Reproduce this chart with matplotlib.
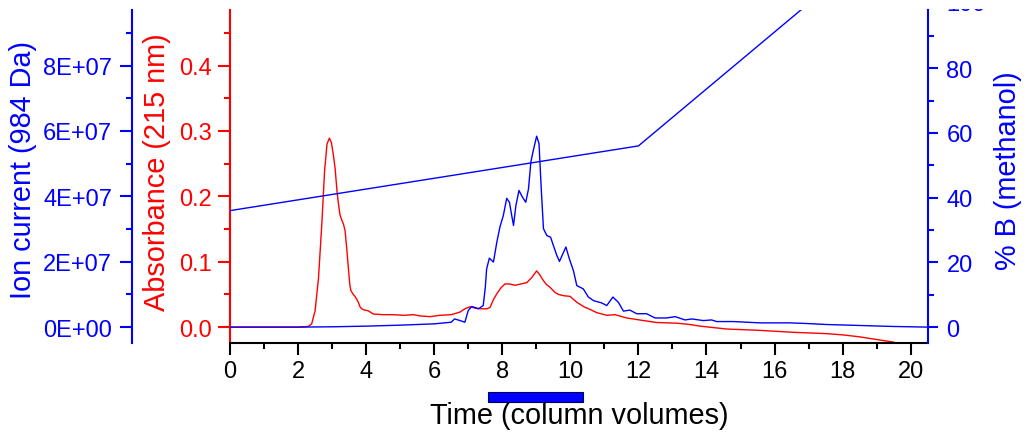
import matplotlib
matplotlib.use("Agg")
import matplotlib.pyplot as plt
import matplotlib.transforms as mtransforms
import numpy as np
from matplotlib.patches import Rectangle
from matplotlib.ticker import FormatStrFormatter, FuncFormatter, MultipleLocator

plt.rcParams["font.family"] = ["Liberation Sans", "DejaVu Sans"]

BLUE = "#0000FF"
RED = "#FF0000"
TICK_FS = 17

# UV trace, 215 nm (time in column volumes, absorbance)
uv_time = [0, 1.0, 2.0, 2.3, 2.4, 2.5, 2.6, 2.7, 2.78, 2.85, 2.92, 2.98, 3.04, 3.09,
           3.14, 3.18, 3.23, 3.28, 3.33, 3.38, 3.43, 3.48, 3.52, 3.55, 3.62, 3.67,
           3.72, 3.77, 3.82, 3.87, 3.95, 4.06, 4.15, 4.21, 4.5, 4.8, 5.1, 5.39, 5.6,
           5.88, 6.17, 6.5, 6.76, 6.9, 7.05, 7.2, 7.35, 7.55, 7.64, 7.74, 7.84, 7.96,
           8.08, 8.2, 8.38, 8.55, 8.72, 8.87, 9.01, 9.1, 9.21, 9.3, 9.4, 9.55, 9.65,
           9.8, 9.99, 10.19, 10.4, 10.58, 10.78, 11.07, 11.31, 11.45, 11.65, 11.9,
           12.15, 12.54, 13.13, 13.5, 13.81, 14.6, 15.57, 16.55, 17.53, 18.02, 18.51,
           19.0, 19.49, 19.8, 20.5]
absorbance = [0.000, 0.000, 0.000, 0.001, 0.005, 0.025, 0.075, 0.160, 0.240, 0.280,
              0.289, 0.282, 0.262, 0.242, 0.210, 0.191, 0.172, 0.164, 0.158, 0.148,
              0.120, 0.089, 0.065, 0.056, 0.050, 0.047, 0.043, 0.038, 0.031, 0.028,
              0.026, 0.025, 0.022, 0.020, 0.019, 0.019, 0.018, 0.019, 0.017, 0.016,
              0.018, 0.019, 0.023, 0.028, 0.031, 0.029, 0.028, 0.028, 0.030, 0.042,
              0.051, 0.060, 0.066, 0.066, 0.064, 0.066, 0.068, 0.076, 0.086, 0.080,
              0.071, 0.065, 0.061, 0.053, 0.050, 0.048, 0.047, 0.038, 0.031, 0.027,
              0.022, 0.018, 0.019, 0.017, 0.014, 0.012, 0.010, 0.007, 0.006, 0.004,
              0.0015, -0.003, -0.005, -0.008, -0.010, -0.012, -0.015, -0.019, -0.023,
              -0.027, -0.030]

# extracted ion current at 984 Da, in units of 1E+07
ms_time = [0, 1, 2, 3, 4, 5, 6, 6.3, 6.5, 6.6, 6.76, 6.9, 7.0, 7.1, 7.2, 7.3, 7.44,
           7.5, 7.54, 7.62, 7.68, 7.74, 7.84, 7.93, 8.03, 8.13, 8.21, 8.28, 8.33,
           8.4, 8.49, 8.59, 8.69, 8.77, 8.84, 8.91, 9.01, 9.08, 9.14, 9.21, 9.31,
           9.42, 9.5, 9.6, 9.68, 9.8, 9.87, 9.97, 10.09, 10.19, 10.38, 10.53, 10.68,
           10.92, 11.07, 11.25, 11.41, 11.56, 11.75, 11.95, 12.24, 12.49, 12.83,
           13.08, 13.37, 13.57, 13.91, 14.15, 14.3, 14.79, 15.57, 16.45, 16.95,
           17.53, 18.51, 19.49, 20.5]
ion_e7 = [0.0, 0.0, 0.0, 0.01, 0.03, 0.06, 0.10, 0.13, 0.15, 0.25, 0.20, 0.15, 0.51,
          0.63, 0.60, 0.56, 0.66, 1.20, 1.78, 2.11, 2.05, 1.99, 2.60, 3.06, 3.41,
          3.94, 3.82, 3.40, 3.11, 3.72, 4.18, 3.98, 3.82, 4.23, 5.05, 5.40, 5.84,
          5.61, 4.33, 3.01, 2.80, 2.75, 2.50, 2.20, 2.01, 2.29, 2.45, 2.09, 1.73,
          1.27, 1.17, 0.92, 0.81, 0.74, 0.66, 0.92, 0.76, 0.49, 0.52, 0.41, 0.41,
          0.28, 0.28, 0.32, 0.22, 0.25, 0.20, 0.22, 0.17, 0.17, 0.13, 0.13, 0.11,
          0.08, 0.05, 0.02, 0.0]

# methanol gradient program
grad_time = [0, 12, 17, 20.5]
grad_pct_b = [36, 56, 100, 100]

# collected fraction window
frac_start, frac_end = 7.57, 10.36

fig = plt.figure(figsize=(10.31, 4.35), dpi=100)
ax = fig.add_axes([0.2231, 0.2085, 0.6767, 0.7662])
ax_ion = ax.twinx()
ax_b = ax.twinx()

ax.plot(uv_time, absorbance, color=RED, lw=1.0)
ax_ion.plot(ms_time, np.array(ion_e7) * 1e7, color=BLUE, lw=1.0)
ax_b.plot(grad_time, grad_pct_b, color=BLUE, lw=1.0)

ax.set_xlim(0, 20.5)
ax.set_ylim(-0.0248, 0.485)
ax_ion.set_ylim(-0.495e7, 9.70e7)
ax_b.set_ylim(-5.0, 98.0)

# spines
for a in (ax, ax_ion, ax_b):
    for s in a.spines.values():
        s.set_visible(False)
        s.set_linewidth(1.5)
ax.spines["bottom"].set_visible(True)
ax.spines["bottom"].set_color("black")
ax.spines["left"].set_visible(True)
ax.spines["left"].set_color(RED)
ax_ion.spines["left"].set_visible(True)
ax_ion.spines["left"].set_color(BLUE)
ax_ion.spines["left"].set_position(("axes", -0.1409))
ax_ion.yaxis.set_ticks_position("left")
ax_ion.yaxis.set_label_position("left")
ax_b.spines["right"].set_visible(True)
ax_b.spines["right"].set_color(BLUE)

# x axis
ax.xaxis.set_major_locator(MultipleLocator(2))
ax.xaxis.set_minor_locator(MultipleLocator(1))
ax.tick_params(axis="x", which="major", length=8.6, width=1.5, labelsize=TICK_FS, pad=3.5)
ax.tick_params(axis="x", which="minor", length=4.6, width=1.5)

# absorbance axis
ax.yaxis.set_major_locator(MultipleLocator(0.1))
ax.yaxis.set_minor_locator(MultipleLocator(0.05))
ax.yaxis.set_major_formatter(FormatStrFormatter("%.1f"))
ax.tick_params(axis="y", which="major", length=8.6, width=1.5, color=RED,
               labelcolor=RED, labelsize=TICK_FS, pad=4.5)
ax.tick_params(axis="y", which="minor", length=4.3, width=1.5, color=RED)

# ion current axis
ax_ion.yaxis.set_major_locator(MultipleLocator(2e7))
ax_ion.yaxis.set_minor_locator(MultipleLocator(1e7))
ax_ion.yaxis.set_major_formatter(FuncFormatter(lambda v, p: f"{v:.0E}"))
ax_ion.tick_params(axis="y", which="major", length=8.6, width=1.5, color=BLUE,
                   labelcolor=BLUE, labelsize=TICK_FS, pad=5.5)
ax_ion.tick_params(axis="y", which="minor", length=4.3, width=1.5, color=BLUE)

# %B axis
ax_b.yaxis.set_major_locator(MultipleLocator(20))
ax_b.yaxis.set_minor_locator(MultipleLocator(10))
ax_b.tick_params(axis="y", which="major", length=7.5, width=1.5, color=BLUE,
                 labelcolor=BLUE, labelsize=TICK_FS, pad=6)
ax_b.tick_params(axis="y", which="minor", length=4.3, width=1.5, color=BLUE)

# the 100 % label sits above the frame; only its lower edge shows
lbl_100 = ax_b.annotate("100", xy=(1, 100), xycoords=("axes fraction", "data"),
                        xytext=(13.7, 0), textcoords="offset points", ha="left",
                        va="center", fontsize=TICK_FS, color=BLUE,
                        annotation_clip=False)
lbl_100.set_clip_box(mtransforms.Bbox.from_extents(900, 0, 1031, 425.5))
lbl_100.set_clip_on(True)

# axis titles
ax.set_xlabel("Time (column volumes)", fontsize=20.8, va="center")
ax.xaxis.set_label_coords(0.5, -0.215)
ax.set_ylabel("Absorbance (215 nm)", fontsize=20.8, color=RED, va="center")
ax.yaxis.set_label_coords(-0.1053, 0.5155)
ax_ion.set_ylabel("Ion current (984 Da)", fontsize=20.8, color=BLUE, va="center")
ax_ion.yaxis.set_label_coords(-0.2969, 0.5215)
ax_b.set_ylabel("% B (methanol)", fontsize=20.8, color=BLUE, va="center", rotation=90)
ax_b.yaxis.set_label_coords(1.115, 0.52)

# fraction bar under the time axis
trans = mtransforms.blended_transform_factory(ax.transData, ax.transAxes)
ax.add_patch(Rectangle((frac_start, -0.177), frac_end - frac_start, 0.030,
                       transform=trans, clip_on=False, facecolor=BLUE,
                       edgecolor="#000060", lw=0.8))

fig.savefig("out.png", dpi=100)
